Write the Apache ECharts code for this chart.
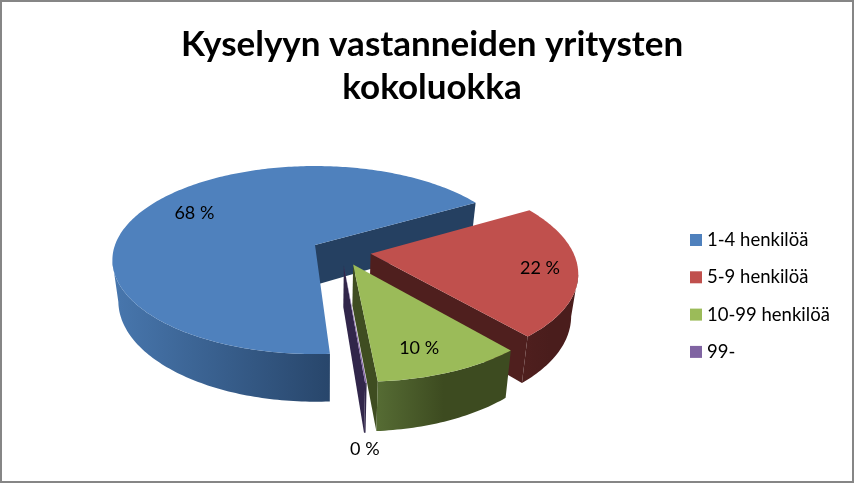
<!DOCTYPE html>
<html>
<head>
<meta charset="utf-8">
<style>html,body{margin:0;padding:0;background:#fff}#c{width:854px;height:483px}</style>
<script src="https://cdn.jsdelivr.net/npm/echarts@6/dist/echarts.min.js"></script>
</head>
<body>
<div id="c"></div>
<script>
var chartTitle = 'Kyselyyn vastanneiden yritysten\nkokoluokka';
var categories = ['1-4 henkilöä', '5-9 henkilöä', '10-99 henkilöä', '99-'];
var values = [67.7, 22.2, 10.0, 0.1];
var topColors = ['#4F81BD', '#C0504D', '#9BBB59', '#8064A2'];
var edgeColors = ['#254061', '#4F1F1E', '#3F4D21', '#31264A'];
var wallLeftColors = ['#4877AE', '#4F1F1E', '#566C34', '#31264A'];
var wallRightColors = ['#28466B', '#4A1D1C', '#3D4B20', '#31264A'];
var labelRadii = [0.74, 0.82, 0.79, 1.43];
var labelTurns = [2, 0, 3, 2];
var drawOrder = [0, 1, 3, 2];

var firstAngle = 86.4, explode = 0.147, persp = 0.16;
var originX = 315, originY = 245, radiusX = 200, radiusY = 91.6;
var total = values.reduce(function (a, b) { return a + b; }, 0);
var D = Math.PI / 180;

function sliceAngles(i) {
  var start = firstAngle;
  for (var k = 0; k < i; k++) start += values[k] / total * 360;
  return [start, start + values[i] / total * 360];
}
function project(u, v) {
  var s = 1 / (1 - persp * v);
  return [originX + radiusX * u * s, originY + radiusY * v * s];
}
function lower(p) {
  return [p[0] + (325 - p[0]) * 0.028, p[1] + 40 + (p[1] - originY) * 0.07];
}
function centerOf(i) {
  var a0 = sliceAngles(0), m0 = (a0[0] + a0[1]) / 2 * D;
  var a = sliceAngles(i), m = (a[0] + a[1]) / 2 * D;
  return [explode * (Math.cos(m) - Math.cos(m0)), explode * (Math.sin(m) - Math.sin(m0))];
}
function rimPoint(i, deg, r) {
  var c = centerOf(i);
  return project(c[0] + r * Math.cos(deg * D), c[1] + r * Math.sin(deg * D));
}

function renderSlice(i) {
  return function (params, api) {
    var val = api.value(0);
    var a = sliceAngles(i), c = centerOf(i);
    var apex = project(c[0], c[1]);
    var arc = [];
    var n = Math.max(2, Math.ceil(a[1] - a[0]));
    for (var k = 0; k <= n; k++) {
      arc.push(rimPoint(i, a[0] + (a[1] - a[0]) * k / n, 1));
    }
    // the outer wall runs between the slice's front end and the silhouette point of its rim
    var midDeg = (a[0] + a[1]) / 2;
    var faceLeft = Math.cos(midDeg * D) < 0;
    var ext = 0;
    arc.forEach(function (p, idx) {
      if (faceLeft ? p[0] < arc[ext][0] : p[0] > arc[ext][0]) ext = idx;
    });
    var wall = faceLeft ? arc.slice(0, ext + 1) : arc.slice(ext);

    var children = [];
    var endTop = arc[arc.length - 1];
    children.push({
      type: 'polygon',
      shape: { points: [apex, endTop, lower(endTop), lower(apex)] },
      style: { fill: edgeColors[i] }
    });
    if (wall.length > 1) {
      var pts = wall.concat(wall.slice().reverse().map(lower));
      children.push({
        type: 'polygon',
        shape: { points: pts },
        style: {
          fill: {
            type: 'linear', x: 1, y: 0, x2: 0, y2: 0,
            colorStops: i === 0
              ? [{ offset: 0, color: wallRightColors[i] }, { offset: 1, color: wallLeftColors[i] }]
              : [{ offset: 0, color: wallRightColors[i] }, { offset: 0.5, color: wallRightColors[i] }, { offset: 1, color: wallLeftColors[i] }]
          }
        }
      });
    }
    children.push({
      type: 'polygon',
      shape: { points: [apex].concat(arc) },
      style: { fill: topColors[i] }
    });
    var lp = rimPoint(i, midDeg + labelTurns[i], labelRadii[i]);
    children.push({
      type: 'text',
      z2: 100,
      style: {
        text: Math.round(val) + ' %',
        x: lp[0], y: lp[1],
        textAlign: 'center', textVerticalAlign: 'middle',
        fill: '#000', font: '18px Lato'
      }
    });
    return { type: 'group', children: children };
  };
}

var chart = echarts.init(document.getElementById('c'), null, { renderer: 'canvas' });
chart.setOption({
  animation: false,
  backgroundColor: '#fff',
  title: {
    text: chartTitle,
    left: 427, top: 18, textAlign: 'center',
    textStyle: { fontFamily: 'Lato', fontWeight: 'bold', fontSize: 35, lineHeight: 43, color: '#000' }
  },
  legend: {
    orient: 'vertical', left: 690, top: 230.5, padding: 0,
    icon: 'rect', itemWidth: 12, itemHeight: 12, itemGap: 18.3,
    selectedMode: false,
    data: categories,
    textStyle: { fontFamily: 'Lato', fontSize: 18.5, lineHeight: 19, color: '#000' }
  },
  graphic: [{
    type: 'rect', silent: true, z: -1,
    shape: { x: 1, y: 1, width: 852, height: 481 },
    style: { fill: 'none', stroke: '#868686', lineWidth: 2 }
  }],
  series: drawOrder.map(function (i) {
    return {
      type: 'custom',
      name: categories[i],
      coordinateSystem: 'none',
      silent: true,
      clip: false,
      itemStyle: { color: topColors[i] },
      renderItem: renderSlice(i),
      data: [[values[i]]]
    };
  })
});
</script>
</body>
</html>
